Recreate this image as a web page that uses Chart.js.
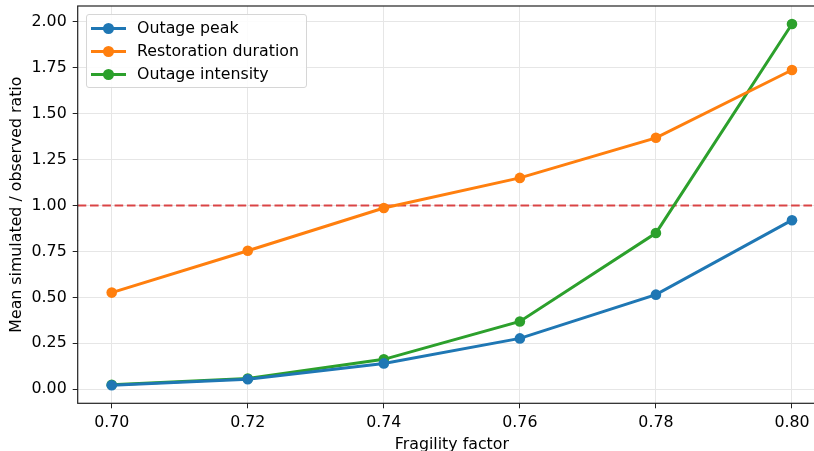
<!DOCTYPE html>
<html>
<head>
<meta charset="utf-8">
<script src="https://cdn.jsdelivr.net/npm/chart.js@4.4.1/dist/chart.umd.min.js"></script>
<style>
    html, body { margin: 0; padding: 0; background: #fff; overflow: hidden; }
    #wrap { position: absolute; left: 0; top: 0; width: 814px; height: 451px; overflow: hidden; }
    #ratio_chart { position: absolute; left: 0; top: 0; }
    #legend {
        position: absolute; left: 86px; top: 14px; width: 219px; height: 72px;
        border: 1px solid #d6d6d6; border-radius: 3px; background: rgba(255,255,255,0.85);
        font-family: 'DejaVu Sans', sans-serif; font-size: 15.8px; color: #000;
    }
    .row { position: absolute; left: 0; height: 20px; width: 100%; }
    .row .ln { position: absolute; left: 4px; top: 8.5px; width: 35px; height: 3px; }
    .row .dot { position: absolute; left: 16px; top: 4.5px; width: 11px; height: 11px; border-radius: 50%; }
    .row .txt { position: absolute; left: 50px; top: 0; line-height: 20px; white-space: nowrap; }
</style>
</head>
<body>
<div id="wrap">
    <canvas id="ratio_chart" width="840" height="451"></canvas>
    <div id="legend"></div>
</div>
<script>
const fragility = [0.70, 0.72, 0.74, 0.76, 0.78, 0.80];
const outagePeak = [0.022, 0.055, 0.141, 0.277, 0.515, 0.920];
const restorationDuration = [0.526, 0.754, 0.986, 1.150, 1.368, 1.737];
const outageIntensity = [0.025, 0.059, 0.163, 0.369, 0.850, 1.987];
const referenceRatio = 1.0;
const xTicks = [0.70, 0.72, 0.74, 0.76, 0.78, 0.80];
const yTicks = [0.00, 0.25, 0.50, 0.75, 1.00, 1.25, 1.50, 1.75, 2.00];
const seriesNames = ['Outage peak', 'Restoration duration', 'Outage intensity'];
const seriesColors = ['#1f77b4', '#ff7f0e', '#2ca02c'];

document.addEventListener('DOMContentLoaded', function () {
    Chart.defaults.font.family = "'DejaVu Sans', sans-serif";
    Chart.defaults.color = '#000';

    const xMin = 0.695, xMax = 0.805;
    const series = [outagePeak, restorationDuration, outageIntensity];

    const datasets = series.map((vals, i) => ({
        label: seriesNames[i],
        data: fragility.map((x, j) => ({ x: x, y: vals[j] })),
        borderColor: seriesColors[i],
        backgroundColor: seriesColors[i],
        borderWidth: 3,
        pointRadius: 5.3,
        pointBorderWidth: 0,
        tension: 0
    }));
    // dashed reference line at ratio 1
    datasets.push({
        label: 'ref',
        data: [{ x: xMin, y: referenceRatio }, { x: xMax, y: referenceRatio }],
        borderColor: 'rgba(214, 39, 40, 0.85)',
        borderWidth: 2,
        borderDash: [8.6, 3.7],
        pointRadius: 0
    });

    // matplotlib-like frame around the plot area
    const frame = {
        id: 'frame',
        afterDraw(chart) {
            const a = chart.chartArea, c = chart.ctx;
            c.save();
            c.strokeStyle = '#222';
            c.lineWidth = 1.2;
            c.strokeRect(a.left, a.top, a.right - a.left, a.bottom - a.top);
            c.restore();
        }
    };

    const tickFont = { size: 15.8 };
    const noPad = axis => { axis.paddingTop = 0; axis.paddingBottom = 0; axis.paddingLeft = 0; axis.paddingRight = 0; };

    new Chart(document.getElementById('ratio_chart').getContext('2d'), {
        type: 'line',
        data: { datasets: datasets },
        plugins: [frame],
        options: {
            responsive: false,
            animation: false,
            layout: { padding: { left: 0, right: 14, top: 6, bottom: 0 } },
            plugins: { legend: { display: false }, tooltip: { enabled: false } },
            scales: {
                x: {
                    type: 'linear',
                    min: xMin,
                    max: xMax,
                    afterBuildTicks: axis => { axis.ticks = xTicks.map(v => ({ value: v })); },
                    afterFit: axis => { axis.height = 47.7; noPad(axis); },
                    ticks: { font: tickFont, padding: 5, maxRotation: 0, callback: v => v.toFixed(2) },
                    grid: { color: '#e6e6e6', lineWidth: 1, tickLength: 5, tickColor: '#222' },
                    border: { display: false },
                    title: { display: true, text: 'Fragility factor', font: tickFont, padding: { top: 0, bottom: -3 } }
                },
                y: {
                    type: 'linear',
                    min: -0.076,
                    max: 2.085,
                    afterBuildTicks: axis => { axis.ticks = yTicks.map(v => ({ value: v })); },
                    afterFit: axis => { axis.width = 77.7; noPad(axis); },
                    ticks: { font: tickFont, padding: 6, callback: v => v.toFixed(2) },
                    grid: { color: '#e6e6e6', lineWidth: 1, tickLength: 5, tickColor: '#222' },
                    border: { display: false },
                    title: { display: true, text: 'Mean simulated / observed ratio', font: tickFont, padding: { top: 7, bottom: 0 } }
                }
            }
        }
    });

    // legend inside the axes, upper left
    const legend = document.getElementById('legend');
    seriesNames.forEach((name, i) => {
        const row = document.createElement('div');
        row.className = 'row';
        row.style.top = (3 + i * 23) + 'px';
        row.innerHTML = '<span class="ln" style="background:' + seriesColors[i] + '"></span>' +
            '<span class="dot" style="background:' + seriesColors[i] + '"></span>' +
            '<span class="txt">' + name + '</span>';
        legend.appendChild(row);
    });
});
</script>
</body>
</html>
